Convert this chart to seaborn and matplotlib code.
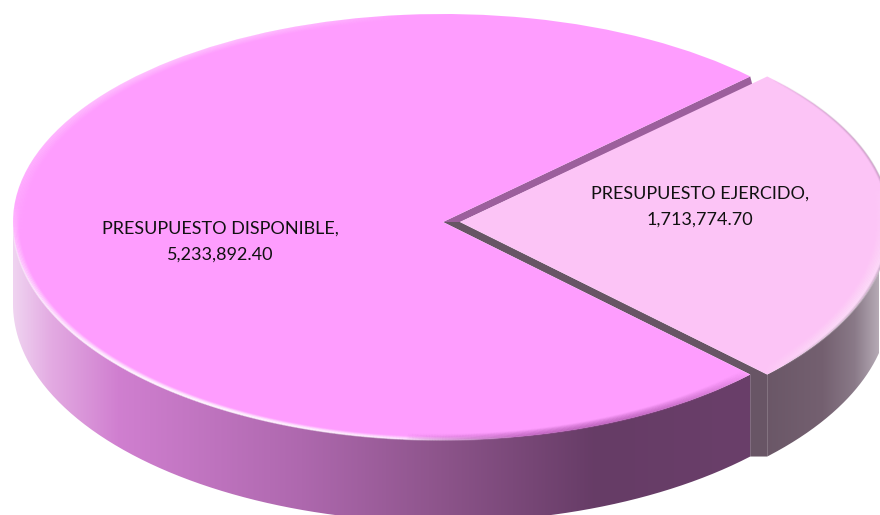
import numpy as np
import matplotlib
matplotlib.use('Agg')
import matplotlib.pyplot as plt
import seaborn as sns
from matplotlib.collections import LineCollection
from matplotlib.colors import LinearSegmentedColormap, to_rgb
from matplotlib.patches import PathPatch, Polygon
from matplotlib.path import Path

categories = ['PRESUPUESTO EJERCIDO', 'PRESUPUESTO DISPONIBLE']
values = [1713774.70, 5233892.40]
face_colors = ['#fcc4f6', '#fe9dfe']

sns.set_theme(style='white')
plt.rcParams['font.family'] = ['Lato', 'DejaVu Sans']

# pie geometry in pixels of the 880x515 picture, front half is drawn a bit taller
W, H = 880, 515
CX, CY, RX, RY_BACK, RY_FRONT = 443, 222, 430, 208, 218
DEPTH = 82 / RY_FRONT
EXPLODE = 17 / RX
K = RY_FRONT / RY_BACK


def px(x, y):
    ry = RY_BACK if y < CY else RY_FRONT
    return (x - CX) / RX, (CY - y) / ry


fig = plt.figure(figsize=(W / 100, H / 100), dpi=100)
ax = fig.add_axes([0, 0, 1, 1])

half = 180 * values[0] / sum(values)
wedges, _ = ax.pie(values, colors=face_colors, startangle=-half,
                   explode=[EXPLODE, 0], radius=1, wedgeprops={'linewidth': 0, 'zorder': 5})
ax.set_aspect('auto')
ax.set_yscale('function', functions=(lambda y: np.where(y < 0, y * K, y),
                                     lambda y: np.where(y < 0, y / K, y)))
ax.set_xlim(px(0, 0)[0], px(W, 0)[0])
ax.set_ylim(px(0, H)[1], px(0, 0)[1])
ax.axis('off')


def arc(t1, t2, dx=0.0, r=1.0):
    t = np.radians(np.linspace(t1, t2, 240))
    return dx + r * np.cos(t), r * np.sin(t)


def gradient_wall(t1, t2, dx, stops, x_range):
    x, y = arc(t1, t2, dx)
    verts = list(zip(x, y)) + list(zip(x[::-1], y[::-1] - DEPTH))
    patch = PathPatch(Path(verts + [verts[0]]), fc='none', ec='none', zorder=3)
    ax.add_patch(patch)
    cmap = LinearSegmentedColormap.from_list('wall', stops)
    x0, x1 = px(x_range[0], 0)[0], px(x_range[1], 0)[0]
    im = ax.imshow(np.linspace(0, 1, 256).reshape(1, -1), cmap=cmap, aspect='auto',
                   extent=[x0, x1, -1.6, 0.4], zorder=3)
    im.set_clip_path(patch)


def rim(t1, t2, color, peak, dx=0.0, steps=8, step=0.0035, lw=1.3):
    # soft bevel: fades inward from the edge and towards both ends of the arc
    base = to_rgb(color)
    for i in range(steps):
        x, y = arc(t1, t2, dx, 1 - i * step)
        pts = np.column_stack([x, y])
        segs = np.stack([pts[:-1], pts[1:]], axis=1)
        fade = np.sin(np.linspace(0, np.pi, len(segs))) ** 0.7
        colors = [(*base, peak * (1 - i / steps) * f) for f in fade]
        ax.add_collection(LineCollection(segs, colors=colors, linewidths=lw, zorder=6))


# side walls
main_stops = [(0, '#efd2f0'), (0.05, '#e3aae2'), (0.14, '#d07fd0'), (0.39, '#ae68ae'),
              (0.59, '#8b5389'), (0.79, '#663c66'), (1, '#6a3f6a')]
ej_stops = [(0, '#685565'), (0.55, '#746070'), (0.8, '#8a7a88'), (1, '#b8adb8')]
gradient_wall(180, 360 - half, 0, main_stops, (13, 752))
gradient_wall(-half, 2, EXPLODE, ej_stops, (752, 880))

# cut faces seen through the gap
a = np.radians(half)
tip_x, tip_y = np.cos(a), np.sin(a)
ax.add_patch(Polygon([(0, 0), (tip_x, tip_y), (tip_x + 0.005, tip_y - 0.04), (EXPLODE, 0)],
                     fc='#9c5f9c', ec='none', zorder=2))
ax.add_patch(Polygon([(0, 0), (EXPLODE, 0), (EXPLODE + tip_x, -tip_y), (EXPLODE + tip_x, -tip_y - DEPTH),
                      (tip_x, -tip_y - DEPTH), (tip_x, -tip_y)],
                     fc='#685565', ec='none', zorder=2))

# bevels on the top faces
rim(175, 280, 'white', 0.75, steps=5, step=0.003)
rim(95, 185, 'white', 0.22)
rim(265, 360 - half, '#a850a8', 0.45)
rim(-half, 10, 'white', 0.4, dx=EXPLODE, steps=10)
rim(-half + 3, half - 1, '#8a6a88', 0.3, dx=EXPLODE, steps=3, step=0.002, lw=1.0)

# labels
label_pos = [(700, 207), (220, 242)]
for cat, val, pos in zip(categories, values, label_pos):
    lx, ly = px(*pos)
    ax.text(lx, ly, f'{cat},\n{val:,.2f}', ha='center', va='center', fontsize=13,
            color='#111111', linespacing=1.75, zorder=7)

fig.savefig('out.png', dpi=100)
